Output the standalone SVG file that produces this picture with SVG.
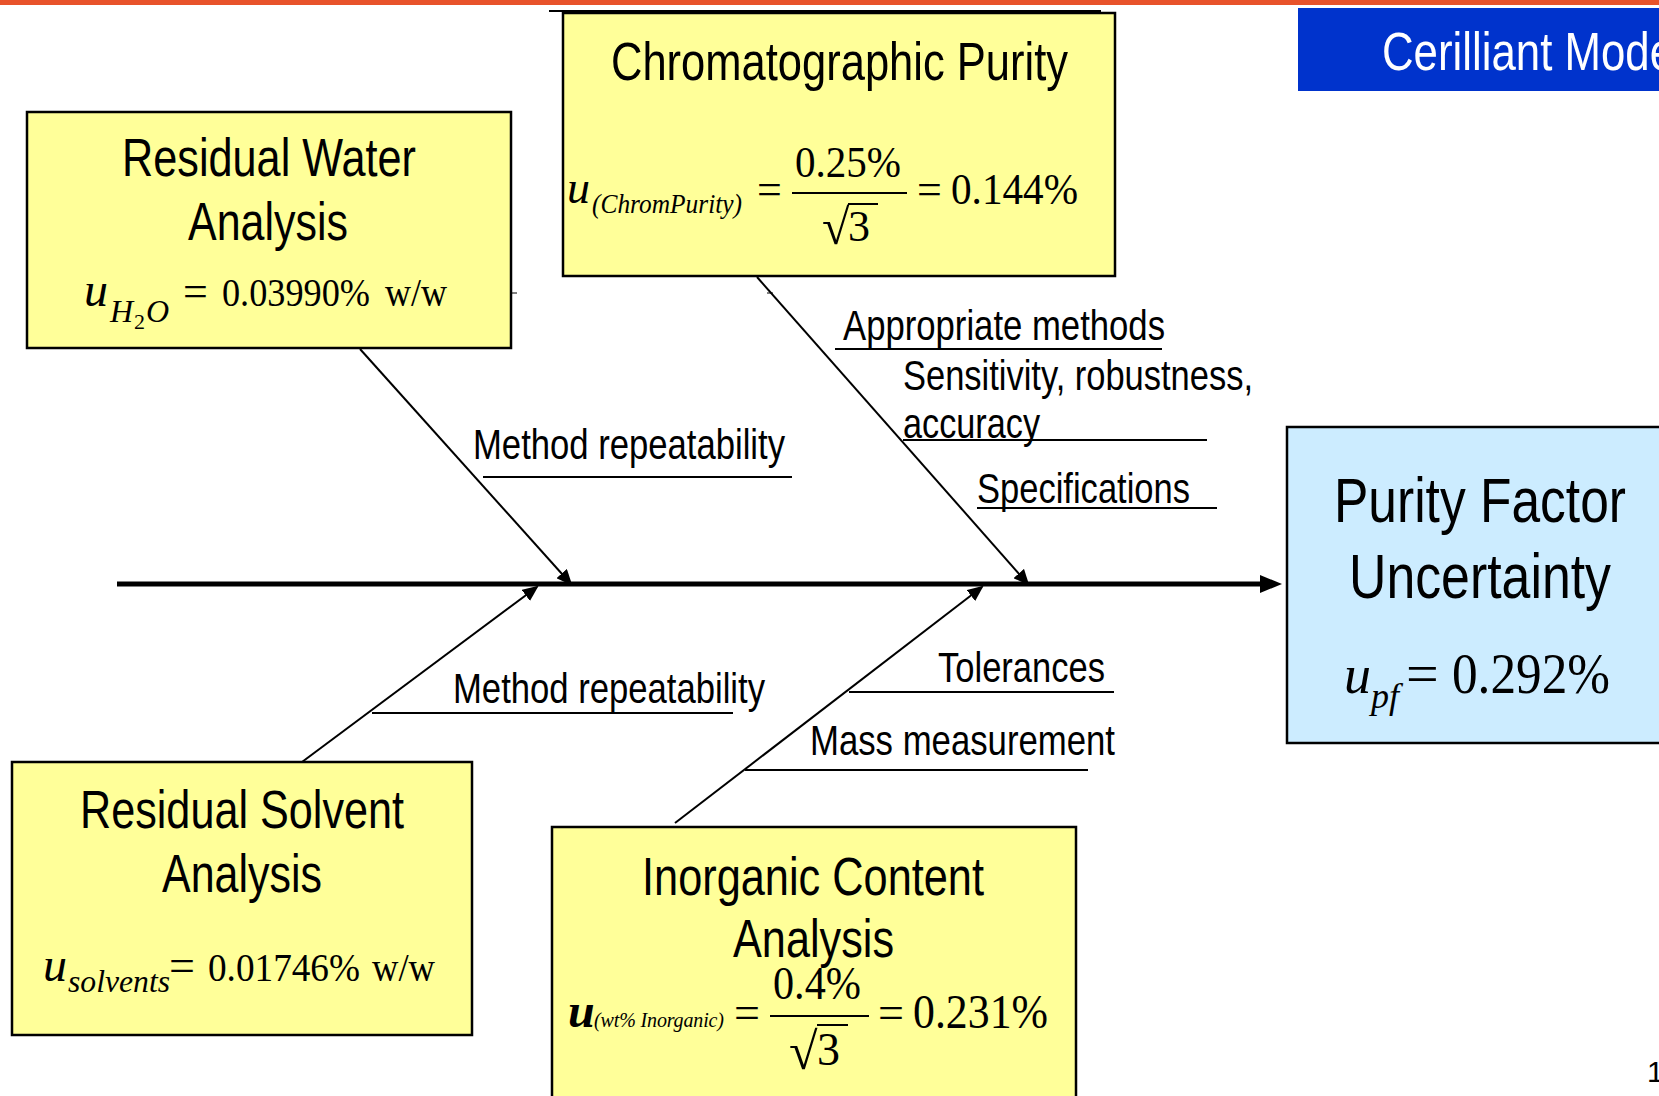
<svg xmlns="http://www.w3.org/2000/svg" width="1659" height="1096" viewBox="0 0 1659 1096">
<defs>
<style>
.box{stroke:#000;stroke-width:2.5}
.yel{fill:#FFFF99}
.blu{fill:#CCECFF}
.sans{font-family:'Liberation Sans Narrow','Liberation Sans',Arial,sans-serif;fill:#000}
.ttl{font-size:53px}
.big{font-size:63px}
.lbl{font-size:42px}
.m{font-family:'Liberation Serif','Times New Roman',serif;fill:#000}
.it{font-style:italic}
.br{stroke:#000;stroke-width:2;fill:none}
.ul{stroke:#000;stroke-width:2}
.bar{stroke:#000;stroke-width:2}
</style>
<marker id="ah" markerUnits="userSpaceOnUse" markerWidth="16" markerHeight="14" refX="14" refY="7" orient="auto">
<path d="M0,0 L16,7 L0,14 z" fill="#000"/>
</marker>
<marker id="ahbig" markerUnits="userSpaceOnUse" markerWidth="22" markerHeight="18" refX="4" refY="9" orient="auto">
<path d="M0,0 L22,9 L0,18 z" fill="#000"/>
</marker>
</defs>
<rect x="0" y="0" width="1659" height="1096" fill="#fff"/>
<rect x="0" y="0" width="1659" height="5" fill="#E8532B"/>

<g id="header">
<rect x="1298" y="8" width="380" height="83" fill="#0033CC"/>
<text x="1382" y="70" class="sans" style="font-size:54px;fill:#fff" textLength="292" lengthAdjust="spacingAndGlyphs">Cerilliant Mode</text>
</g>

<g id="connectors">
<line x1="117" y1="584" x2="1264" y2="584" stroke="#000" stroke-width="5" marker-end="url(#ahbig)"/>
<line class="br" x1="360" y1="349" x2="571" y2="584" marker-end="url(#ah)"/>
<line class="br" x1="757" y1="277" x2="1028" y2="584" marker-end="url(#ah)"/>
<line class="br" x1="302" y1="762" x2="537" y2="587" marker-end="url(#ah)"/>
<line class="br" x1="675" y1="823" x2="982" y2="587" marker-end="url(#ah)"/>
<line x1="549" y1="11" x2="1101" y2="11" stroke="#000" stroke-width="2"/>
<line x1="512" y1="293" x2="517" y2="293" stroke="#000" stroke-width="1"/>
<line x1="767" y1="293" x2="773" y2="293" stroke="#000" stroke-width="1"/>
</g>

<g id="labels">
<text x="473" y="459" class="sans lbl" textLength="312" lengthAdjust="spacingAndGlyphs">Method repeatability</text>
<line class="ul" x1="483" y1="477" x2="792" y2="477"/>
<text x="843" y="340" class="sans lbl" textLength="322" lengthAdjust="spacingAndGlyphs">Appropriate methods</text>
<line class="ul" x1="835" y1="349" x2="1162" y2="349"/>
<text x="903" y="390" class="sans lbl" textLength="350" lengthAdjust="spacingAndGlyphs">Sensitivity, robustness,</text>
<text x="903" y="438" class="sans lbl" textLength="137" lengthAdjust="spacingAndGlyphs">accuracy</text>
<line class="ul" x1="903" y1="440" x2="1207" y2="440"/>
<text x="977" y="503" class="sans lbl" textLength="213" lengthAdjust="spacingAndGlyphs">Specifications</text>
<line class="ul" x1="977" y1="508" x2="1217" y2="508"/>
<text x="453" y="703" class="sans lbl" textLength="312" lengthAdjust="spacingAndGlyphs">Method repeatability</text>
<line class="ul" x1="372" y1="713" x2="733" y2="713"/>
<text x="938" y="682" class="sans lbl" textLength="167" lengthAdjust="spacingAndGlyphs">Tolerances</text>
<line class="ul" x1="849" y1="692" x2="1114" y2="692"/>
<text x="810" y="755" class="sans lbl" textLength="305" lengthAdjust="spacingAndGlyphs">Mass measurement</text>
<line class="ul" x1="745" y1="770" x2="1088" y2="770"/>
</g>

<g id="node-residual-water">
<rect class="box yel" x="27" y="112" width="484" height="236"/>
<text x="122" y="176" class="sans ttl" textLength="294" lengthAdjust="spacingAndGlyphs">Residual Water</text>
<text x="188" y="240" class="sans ttl" textLength="160" lengthAdjust="spacingAndGlyphs">Analysis</text>
<text x="84" y="306" class="m it" style="font-size:48px">u</text>
<text x="110" y="322" class="m it" style="font-size:32px">H</text>
<text x="134" y="329" class="m" style="font-size:22px">2</text>
<text x="146" y="322" class="m it" style="font-size:32px">O</text>
<text x="183" y="306" class="m" style="font-size:44px">=</text>
<text x="222" y="306" class="m" style="font-size:40px" textLength="148" lengthAdjust="spacingAndGlyphs">0.03990%</text>
<text x="385" y="306" class="m" style="font-size:40px" textLength="62" lengthAdjust="spacingAndGlyphs">w/w</text>
</g>

<g id="node-chromatographic-purity">
<rect class="box yel" x="563" y="13" width="552" height="263"/>
<text x="611" y="80" class="sans ttl" textLength="457" lengthAdjust="spacingAndGlyphs">Chromatographic Purity</text>
<text x="567" y="203" class="m it" style="font-size:46px">u</text>
<text x="592" y="213" class="m it" style="font-size:27px" textLength="150" lengthAdjust="spacingAndGlyphs">(ChromPurity)</text>
<text x="757" y="204" class="m" style="font-size:44px">=</text>
<text x="795" y="177" class="m" style="font-size:44px" textLength="106" lengthAdjust="spacingAndGlyphs">0.25%</text>
<line class="bar" x1="792" y1="193" x2="907" y2="193"/>
<text x="822" y="244" class="m" style="font-size:50px">√</text>
<line class="bar" x1="848" y1="204" x2="878" y2="204"/>
<text x="848" y="241" class="m" style="font-size:44px">3</text>
<text x="917" y="204" class="m" style="font-size:44px">=</text>
<text x="951" y="204" class="m" style="font-size:44px" textLength="127" lengthAdjust="spacingAndGlyphs">0.144%</text>
</g>

<g id="node-residual-solvent">
<rect class="box yel" x="12" y="762" width="460" height="273"/>
<text x="80" y="828" class="sans ttl" textLength="324" lengthAdjust="spacingAndGlyphs">Residual Solvent</text>
<text x="162" y="892" class="sans ttl" textLength="160" lengthAdjust="spacingAndGlyphs">Analysis</text>
<text x="43" y="981" class="m it" style="font-size:48px">u</text>
<text x="68" y="992" class="m it" style="font-size:31px" textLength="102" lengthAdjust="spacingAndGlyphs">solvents</text>
<text x="169" y="981" class="m" style="font-size:46px">=</text>
<text x="208" y="981" class="m" style="font-size:40px" textLength="152" lengthAdjust="spacingAndGlyphs">0.01746%</text>
<text x="372" y="981" class="m" style="font-size:40px" textLength="63" lengthAdjust="spacingAndGlyphs">w/w</text>
</g>

<g id="node-inorganic-content">
<rect class="box yel" x="552" y="827" width="524" height="290"/>
<text x="642" y="895" class="sans ttl" textLength="342" lengthAdjust="spacingAndGlyphs">Inorganic Content</text>
<text x="733" y="957" class="sans ttl" textLength="161" lengthAdjust="spacingAndGlyphs">Analysis</text>
<text x="568" y="1027" class="m it" style="font-size:48px;font-weight:bold">u</text>
<text x="594" y="1027" class="m it" style="font-size:20px" textLength="130" lengthAdjust="spacing">(wt% Inorganic)</text>
<text x="734" y="1028" class="m" style="font-size:46px">=</text>
<text x="773" y="999" class="m" style="font-size:46px" textLength="88" lengthAdjust="spacingAndGlyphs">0.4%</text>
<line class="bar" x1="770" y1="1016" x2="869" y2="1016"/>
<text x="789" y="1069" class="m" style="font-size:52px">√</text>
<line class="bar" x1="817" y1="1025" x2="848" y2="1025"/>
<text x="817" y="1065" class="m" style="font-size:46px">3</text>
<text x="878" y="1028" class="m" style="font-size:46px">=</text>
<text x="913" y="1028" class="m" style="font-size:48px" textLength="135" lengthAdjust="spacingAndGlyphs">0.231%</text>
</g>

<g id="node-purity-factor">
<rect class="box blu" x="1287" y="427" width="420" height="316"/>
<text x="1334" y="522" class="sans big" textLength="292" lengthAdjust="spacingAndGlyphs">Purity Factor</text>
<text x="1349" y="598" class="sans big" textLength="262" lengthAdjust="spacingAndGlyphs">Uncertainty</text>
<text x="1344" y="693" class="m it" style="font-size:54px">u</text>
<text x="1371" y="708" class="m it" style="font-size:36px">pf</text>
<text x="1406" y="693" class="m" style="font-size:58px">=</text>
<text x="1452" y="693" class="m" style="font-size:56px" textLength="158" lengthAdjust="spacingAndGlyphs">0.292%</text>
</g>

<text x="1647" y="1082" class="sans" style="font-size:30px">1</text>
</svg>
